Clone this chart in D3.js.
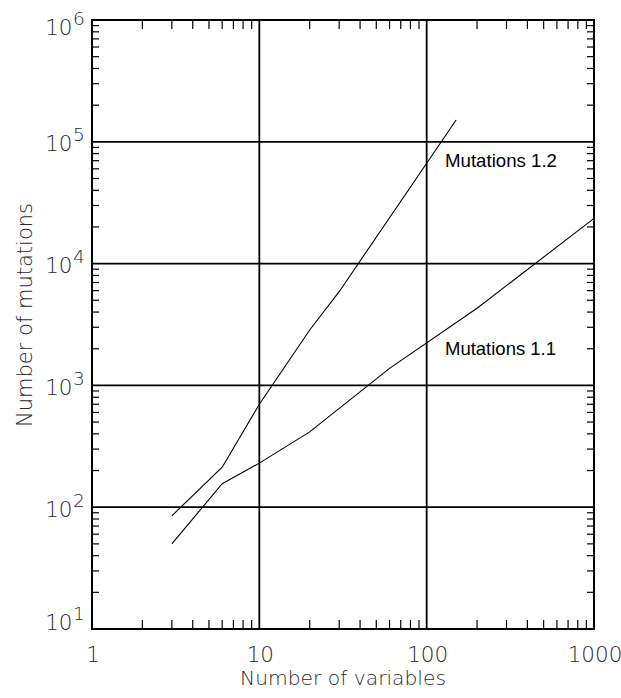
<!DOCTYPE html>
<html><head><meta charset="utf-8">
<script src="https://cdn.jsdelivr.net/npm/d3@7"></script>
<style>body{margin:0;background:#fff}svg{display:block}</style>
</head><body>
<svg id="c" width="621" height="698"></svg>
<script>
// ---- data ----
const xDomain = [1, 1000];
const yDomain = [10, 1e6];
const xTickValues = [1, 10, 100, 1000];
const xTickLabels = ["1", "10", "100", "1000"];
const yTickExponents = [1, 2, 3, 4, 5, 6];
const seriesNames = ["Mutations 1.1", "Mutations 1.2"];
const vars11 = [3, 6, 10, 20, 60, 200, 1000];
const muts11 = [50, 156, 230, 415, 1380, 4300, 23500];
const vars12 = [3, 6, 10, 20, 30, 150];
const muts12 = [85, 213, 700, 2850, 5880, 151000];
const xTitle = "Number of variables";
const yTitle = "Number of mutations";

// ---- layout ----
const W = 621, H = 698;
const m = {left: 92, top: 20, right: 27, bottom: 69};
const svg = d3.select("#c");
const x = d3.scaleLog().domain(xDomain).range([m.left, W - m.right]);
const y = d3.scaleLog().domain(yDomain).range([H - m.bottom, m.top]);
const font = "'DejaVu Sans', sans-serif";
const txt = "#2a2a2a";

const g = svg.append("g");

// minor ticks
const minorX = [];
for (let d = 1; d < 1000; d *= 10) for (let k = 2; k <= 9; k++) minorX.push(d * k);
const minorY = [];
for (let d = 10; d < 1e6; d *= 10) for (let k = 2; k <= 9; k++) minorY.push(d * k);

g.selectAll(".mxb").data(minorX).join("line")
  .attr("x1", d => x(d)).attr("x2", d => x(d))
  .attr("y1", y.range()[0]).attr("y2", y.range()[0] - 9)
  .attr("stroke", "#000").attr("stroke-width", 1.2);
g.selectAll(".mxt").data(minorX).join("line")
  .attr("x1", d => x(d)).attr("x2", d => x(d))
  .attr("y1", y.range()[1]).attr("y2", y.range()[1] + 9)
  .attr("stroke", "#000").attr("stroke-width", 1.2);
g.selectAll(".myl").data(minorY).join("line")
  .attr("x1", x.range()[0]).attr("x2", x.range()[0] + 7)
  .attr("y1", d => y(d)).attr("y2", d => y(d))
  .attr("stroke", "#000").attr("stroke-width", 1.2);
g.selectAll(".myr").data(minorY).join("line")
  .attr("x1", x.range()[1]).attr("x2", x.range()[1] - 7)
  .attr("y1", d => y(d)).attr("y2", d => y(d))
  .attr("stroke", "#000").attr("stroke-width", 1.2);

// grid lines at decades
g.selectAll(".gx").data(xTickValues.slice(1, -1)).join("line")
  .attr("x1", d => x(d)).attr("x2", d => x(d))
  .attr("y1", y.range()[0]).attr("y2", y.range()[1])
  .attr("stroke", "#000").attr("stroke-width", 1.8);
g.selectAll(".gy").data(yTickExponents.slice(1, -1)).join("line")
  .attr("x1", x.range()[0]).attr("x2", x.range()[1])
  .attr("y1", d => y(Math.pow(10, d))).attr("y2", d => y(Math.pow(10, d)))
  .attr("stroke", "#000").attr("stroke-width", 1.8);

// frame
g.append("rect")
  .attr("x", x.range()[0]).attr("y", y.range()[1])
  .attr("width", x.range()[1] - x.range()[0])
  .attr("height", y.range()[0] - y.range()[1])
  .attr("fill", "none").attr("stroke", "#000").attr("stroke-width", 2);

// data lines
const line = d3.line().x(d => x(d[0])).y(d => y(d[1]));
const s11 = vars11.map((v, i) => [v, muts11[i]]);
const s12 = vars12.map((v, i) => [v, muts12[i]]);
[s11, s12].forEach(s => {
  g.append("path").datum(s).attr("d", line)
    .attr("fill", "none").attr("stroke", "#000").attr("stroke-width", 1.1);
});

// series labels
g.append("text").attr("x", 445).attr("y", 354.5).text(seriesNames[0])
  .attr("font-family", "'Liberation Sans', Arial, sans-serif").attr("font-size", 19)
  .attr("textLength", 111).attr("lengthAdjust", "spacingAndGlyphs").attr("fill", "#000");
g.append("text").attr("x", 445).attr("y", 167).text(seriesNames[1])
  .attr("font-family", "'Liberation Sans', Arial, sans-serif").attr("font-size", 19)
  .attr("textLength", 112).attr("lengthAdjust", "spacingAndGlyphs").attr("fill", "#000");

// x tick labels
g.selectAll(".xl").data(xTickValues).join("text")
  .attr("x", d => x(d) + 1).attr("y", 662)
  .attr("text-anchor", "middle").attr("font-family", font).attr("font-weight", 200)
  .attr("font-size", 21.5).attr("fill", txt)
  .text((d, i) => xTickLabels[i]);

// y tick labels 10^n
yTickExponents.forEach((e, i) => {
  let cy = y(Math.pow(10, e)) + 1.5;
  if (i === yTickExponents.length - 1) cy += 6;
  if (i === 0) cy -= 8.5;
  const base = cy + 7.8;
  g.append("text").attr("x", 72.5).attr("y", base)
    .attr("text-anchor", "end").attr("font-family", font).attr("font-weight", 200)
    .attr("font-size", 21.5).attr("fill", txt).text("10");
  g.append("text").attr("x", 73).attr("y", base - 10)
    .attr("text-anchor", "start").attr("font-family", font).attr("font-weight", 200)
    .attr("font-size", 18.5).attr("fill", txt).text(String(e));
});

// axis titles
g.append("text").attr("x", (x.range()[0] + x.range()[1]) / 2).attr("y", 685)
  .attr("text-anchor", "middle").attr("font-family", font).attr("font-weight", 200)
  .attr("font-size", 20).attr("textLength", 206).attr("lengthAdjust", "spacingAndGlyphs")
  .attr("fill", txt).text(xTitle);
g.append("text").attr("transform", "translate(32,315) rotate(-90)")
  .attr("text-anchor", "middle").attr("font-family", font).attr("font-weight", 200)
  .attr("font-size", 21).attr("textLength", 224).attr("lengthAdjust", "spacingAndGlyphs")
  .attr("fill", txt).text(yTitle);
</script>
</body></html>
